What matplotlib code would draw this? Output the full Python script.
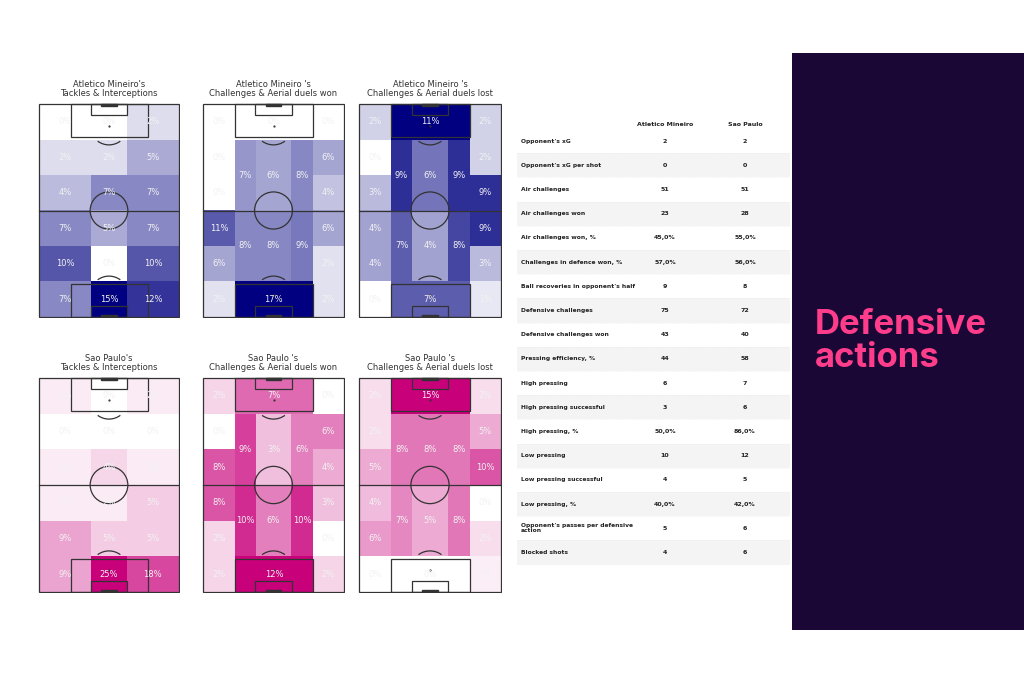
import numpy as np
import matplotlib.pyplot as plt
from matplotlib.patches import Rectangle, Circle, Arc
from matplotlib.colors import LinearSegmentedColormap, Normalize

# tackles & interceptions: 6 rows (top -> bottom) x 3 columns
atl_tackles = [[0, 0, 2], [2, 2, 5], [4, 7, 7], [7, 5, 7], [10, 0, 10], [7, 15, 12]]
sao_tackles = [[2, 0, 2], [0, 0, 0], [2, 4, 2], [2, 2, 5], [9, 5, 5], [9, 25, 18]]

# duels: wings 6 rows top->bottom, middle: top box, upper 3, lower 3, bottom box
atl_won = dict(left=[0, 0, 0, 11, 6, 2], right=[0, 6, 4, 6, 2, 2], top=0,
               upper=[7, 6, 8], lower=[8, 8, 9], bottom=17)
atl_lost = dict(left=[2, 0, 3, 4, 4, 0], right=[2, 2, 9, 9, 3, 1], top=11,
                upper=[9, 6, 9], lower=[7, 4, 8], bottom=7)
sao_won = dict(left=[2, 0, 8, 8, 2, 2], right=[0, 6, 4, 3, 0, 2], top=7,
               upper=[9, 3, 6], lower=[10, 6, 10], bottom=12)
sao_lost = dict(left=[2, 2, 5, 4, 6, 0], right=[2, 5, 10, 0, 2, 1], top=15,
                upper=[8, 8, 8], lower=[7, 5, 8], bottom=0)

table_rows = ["Opponent's xG", "Opponent's xG per shot", "Air challenges", "Air challenges won",
              "Air challenges won, %", "Challenges in defence won, %", "Ball recoveries in opponent's half",
              "Defensive challenges", "Defensive challenges won", "Pressing efficiency, %", "High pressing",
              "High pressing successful", "High pressing, %", "Low pressing", "Low pressing successful",
              "Low pressing, %", "Opponent's passes per defensive\naction", "Blocked shots"]
atl_col = ["2", "0", "51", "23", "45,0%", "57,0%", "9", "75", "43", "44", "6", "3", "50,0%", "10", "4",
           "40,0%", "5", "4"]
sao_col = ["2", "0", "51", "28", "55,0%", "56,0%", "8", "72", "40", "58", "7", "6", "86,0%", "12", "5",
           "42,0%", "6", "6"]

W, L = 68.0, 105.0
FW, FH = 1024, 683
fig = plt.figure(figsize=(FW / 100, FH / 100), dpi=100)
fig.patch.set_facecolor('white')


def px_axes(x0, y0, x1, y1):
    return fig.add_axes([x0 / FW, 1 - y1 / FH, (x1 - x0) / FW, (y1 - y0) / FH])


def draw_pitch(ax):
    lc = '#333333'
    kw = dict(fill=False, ec=lc, lw=0.9, zorder=5)
    ax.add_patch(Rectangle((0, 0), W, L, **kw))
    ax.plot([0, W], [L / 2, L / 2], color=lc, lw=0.9, zorder=5)
    ax.add_patch(Circle((W / 2, L / 2), 9.15, **kw))
    for y0, sgn in [(0, 1), (L, -1)]:
        ax.add_patch(Rectangle((0.226 * W, y0), 0.553 * W, sgn * 16.3, **kw))
        ax.add_patch(Rectangle((0.37 * W, y0), 0.26 * W, sgn * 5.5, **kw))
        ax.add_patch(Rectangle((W / 2 - 3.66, y0), 7.32, sgn * 0.9, color=lc, zorder=5))
        spot = y0 + sgn * 11
        ax.plot(W / 2, spot, '.', color=lc, ms=1.2, zorder=5)
        t = (53, 127) if sgn == 1 else (233, 307)
        ax.add_patch(Arc((W / 2, spot), 18.3, 18.3, theta1=t[0], theta2=t[1], ec=lc, lw=0.9, zorder=5))
    ax.set_xlim(-0.5, W + 0.5)
    ax.set_ylim(-0.5, L + 0.5)
    ax.axis('off')


def cell(ax, x0, x1, y0, y1, v, cmap, norm):
    ax.add_patch(Rectangle((x0, y0), x1 - x0, y1 - y0, color=cmap(norm(v)), lw=0, zorder=1))
    ax.text((x0 + x1) / 2, (y0 + y1) / 2, f"{v}%", ha='center', va='center', fontsize=6,
            color='#f2f2f2', zorder=6)


rows = np.linspace(L, 0, 7)


def tackles_panel(ax, data, cmap):
    norm = Normalize(0, max(max(r) for r in data))
    cols = np.array([0, 0.373, 0.627, 1]) * W
    for i, r in enumerate(data):
        for j, v in enumerate(r):
            cell(ax, cols[j], cols[j + 1], rows[i + 1], rows[i], v, cmap, norm)
    draw_pitch(ax)


def duels_panel(ax, d, cmap):
    vals = d['left'] + d['right'] + d['upper'] + d['lower'] + [d['top'], d['bottom']]
    norm = Normalize(0, max(vals))
    cols = np.array([0, 0.226, 0.374, 0.626, 0.779, 1]) * W
    for i in range(6):
        cell(ax, cols[0], cols[1], rows[i + 1], rows[i], d['left'][i], cmap, norm)
        cell(ax, cols[4], cols[5], rows[i + 1], rows[i], d['right'][i], cmap, norm)
    cell(ax, cols[1], cols[4], rows[1], rows[0], d['top'], cmap, norm)
    cell(ax, cols[1], cols[4], rows[6], rows[5], d['bottom'], cmap, norm)
    for j in range(3):
        cell(ax, cols[j + 1], cols[j + 2], rows[3], rows[1], d['upper'][j], cmap, norm)
        cell(ax, cols[j + 1], cols[j + 2], rows[5], rows[3], d['lower'][j], cmap, norm)
    draw_pitch(ax)


blue = LinearSegmentedColormap.from_list('b', ['#ffffff', '#000080'])
pink = LinearSegmentedColormap.from_list('p', ['#ffffff', '#c8007a'])

xs = [(38, 180), (202, 345), (358, 502)]
titles = ["{}'s\nTackles & Interceptions", "{} 's\nChallenges & Aerial duels won",
          "{} 's\nChallenges & Aerial duels lost"]
for (y0, y1), team, tk, won, lost, cm in [((103, 318), 'Atletico Mineiro', atl_tackles, atl_won, atl_lost, blue),
                                          ((377, 593), 'Sao Paulo', sao_tackles, sao_won, sao_lost, pink)]:
    axs = [px_axes(x0, y0, x1, y1) for x0, x1 in xs]
    tackles_panel(axs[0], tk, cm)
    duels_panel(axs[1], won, cm)
    duels_panel(axs[2], lost, cm)
    for ax, (x0, x1), t in zip(axs, xs, titles):
        fig.text((x0 + x1) / 2 / FW, 1 - (y0 - 14) / FH, t.format(team), ha='center', va='center',
                 fontsize=6, color='#333333', linespacing=1.1)

# table
tab = px_axes(517, 113, 790, 565)
tab.set_xlim(0, 273)
tab.set_ylim(452, 0)
tab.axis('off')
rh = 24.2
top = 16
tab.text(148, 11, 'Atletico Mineiro', ha='center', va='center', fontsize=4.5, fontweight='bold', color='#222222')
tab.text(228, 11, 'Sao Paulo', ha='center', va='center', fontsize=4.5, fontweight='bold', color='#222222')
for i, (lab, a, s) in enumerate(zip(table_rows, atl_col, sao_col)):
    yc = top + rh * (i + 0.5)
    if i % 2 == 1:
        tab.add_patch(Rectangle((0, top + rh * i), 273, rh, color='#f4f4f4', lw=0))
    tab.plot([0, 273], [top + rh * (i + 1)] * 2, color='#e6e6e6', lw=0.4, ls=':')
    tab.text(4, yc, lab, ha='left', va='center', fontsize=4.3, fontweight='bold', color='#222222',
             linespacing=1.0)
    tab.text(148, yc, a, ha='center', va='center', fontsize=4.5, fontweight='bold', color='#222222')
    tab.text(228, yc, s, ha='center', va='center', fontsize=4.5, fontweight='bold', color='#222222')

# side panel
side = px_axes(792, 53, 1024, 630)
side.set_facecolor('#1b0736')
side.set_xticks([])
side.set_yticks([])
for sp in side.spines.values():
    sp.set_visible(False)
side.text(0.1, 0.5, 'Defensive\nactions', transform=side.transAxes, ha='left', va='center',
          fontsize=25, fontweight='bold', color='#ff3d8b', family='Inter', linespacing=1.05)

fig.savefig('out.png', dpi=100)
